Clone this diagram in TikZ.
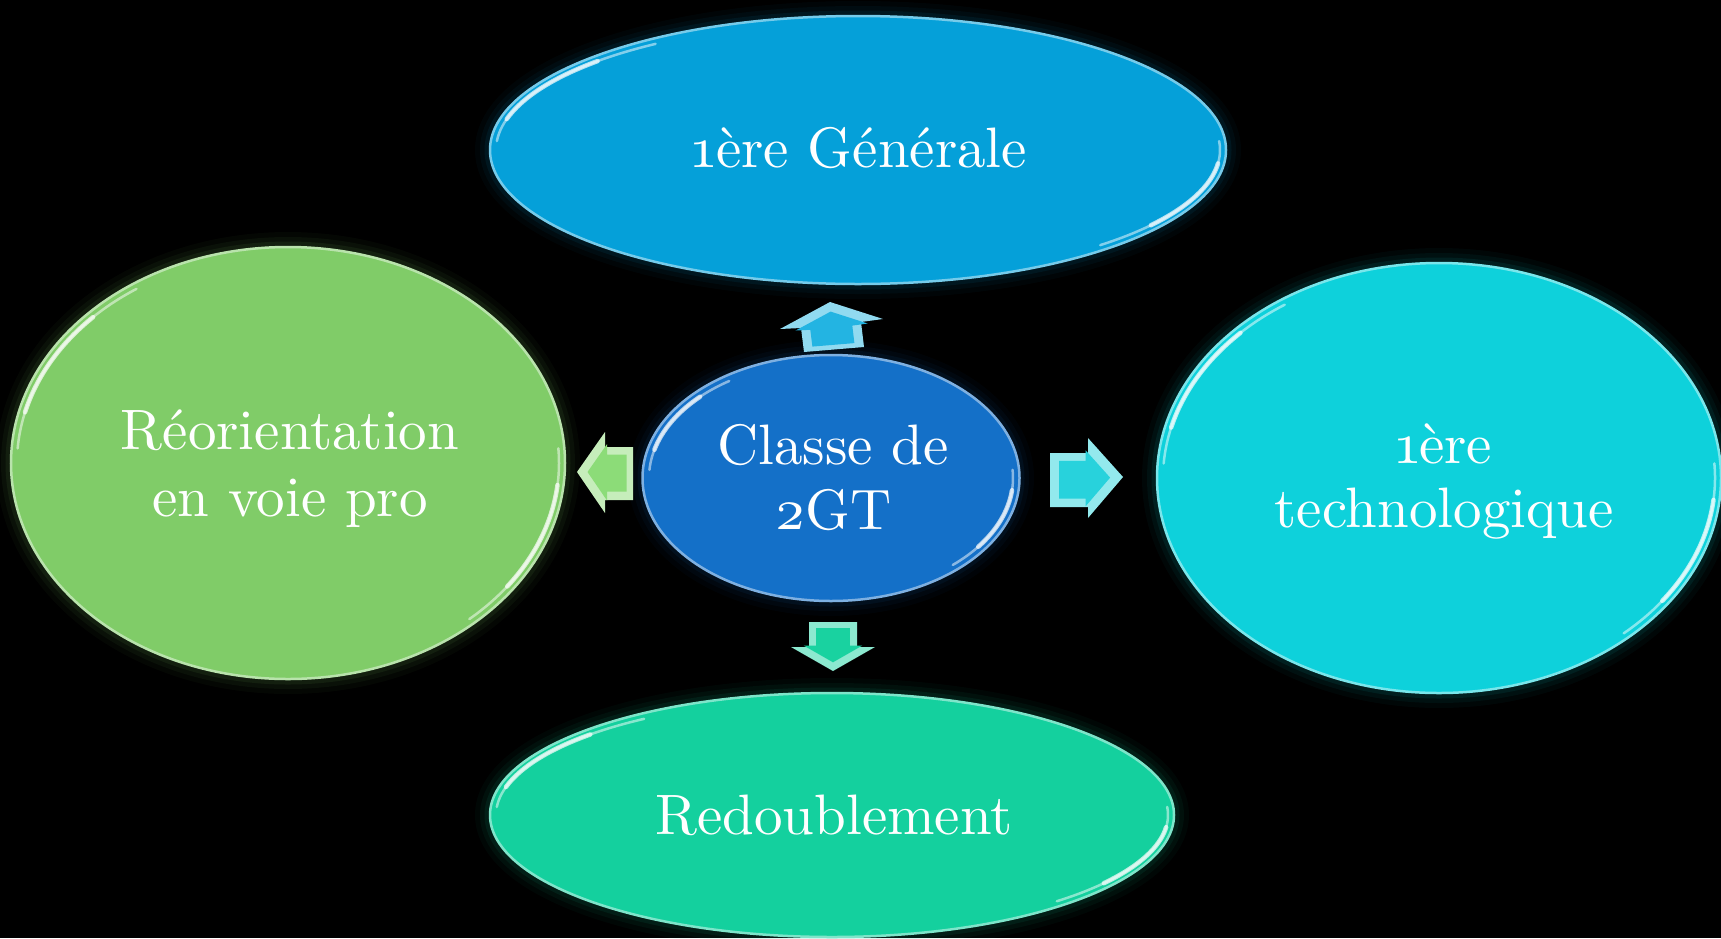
\documentclass[tikz,border=0pt]{standalone}
\usetikzlibrary{shapes.geometric}
\definecolor{cTop}{RGB}{5,160,217}
\definecolor{cMid}{RGB}{20,112,200}
\definecolor{cLeft}{RGB}{128,204,104}
\definecolor{cRight}{RGB}{14,209,219}
\definecolor{cBot}{RGB}{20,208,158}
\definecolor{aUp}{RGB}{35,180,226}
\definecolor{aLeft}{RGB}{140,220,120}
\definecolor{aRight}{RGB}{40,210,220}
\definecolor{aDown}{RGB}{25,210,160}
\font\bigrm="[lmroman10-regular]:+tlig;+onum;" at 57pt
\newcommand\glowell[5]{%
  \foreach \w/\o in {30/0.035, 20/0.05, 11/0.08}{
    \draw[#5, opacity=\o, line width=\w pt] (#1,#2) ellipse [x radius=#3, y radius=#4];
  }%
}
\newcommand\shineell[3]{% node, rx, ry (inset)
  \draw[shine] (#1) ++(194:#2 and #3) arc[start angle=194, end angle=224, x radius=#2, y radius=#3];
  \draw[shine, line width=2.5pt, opacity=0.5] (#1) ++(184:#2 and #3) arc[start angle=184, end angle=236, x radius=#2, y radius=#3];
  \draw[shine] (#1) ++(6:#2 and #3) arc[start angle=6, end angle=36, x radius=#2, y radius=#3];
  \draw[shine, line width=2.5pt, opacity=0.5] (#1) ++(-4:#2 and #3) arc[start angle=-4, end angle=48, x radius=#2, y radius=#3];
}
\newcommand\barrow[3]{%
  \fill[#1!50!white] #3 -- cycle;
  \fill[#1, scale around={0.7:#2}] #3 -- cycle;
}
\tikzset{
  bubble/.style={ellipse, inner sep=0pt, fill=#1, draw=#1!55!white, line width=2.5pt},
  lbl/.style={text=white, font=\bigrm, inner sep=0pt, anchor=base},
  shine/.style={white, opacity=0.7, line width=4.5pt, line cap=round},
}
\begin{document}
\begin{tikzpicture}[x=1pt,y=-1pt]
\fill[black] (0,0) rectangle (1721,938);
\useasboundingbox (0,0) rectangle (1721,938);

% glows
\glowell{858}{150}{368}{134}{cTop}
\glowell{288}{463}{277}{216}{cLeft}
\glowell{1439}{478}{282}{215}{cRight}
\glowell{832}{815}{342}{122}{cBot}
\glowell{831}{478}{188}{123}{cMid}

% ellipses
\node[bubble=cTop, minimum width=736pt, minimum height=268pt] (gen) at (858,150) {};
\node[bubble=cLeft, minimum width=554pt, minimum height=432pt] (reo) at (288,463) {};
\node[bubble=cRight, minimum width=564pt, minimum height=430pt] (tech) at (1439,478) {};
\node[bubble=cBot, minimum width=684pt, minimum height=244pt] (red) at (832,815) {};
\node[bubble=cMid, minimum width=377pt, minimum height=246pt] (mid) at (831,478) {};

% bevel highlights
\shineell{gen.center}{362}{128}
\shineell{reo.center}{271}{210}
\shineell{tech.center}{276}{209}
\shineell{red.center}{336}{116}
\shineell{mid.center}{182}{117}

% block arrows
\barrow{aUp}{(832,334)}{(830,302) -- (883,319) -- (861,322) -- (864,347) -- (804,352) -- (801,328) -- (780,329)}
\barrow{aLeft}{(612,472)}{(577,472) -- (605,432) -- (605,447) -- (633,447) -- (633,500) -- (605,500) -- (605,513)}
\barrow{aRight}{(1080,479)}{(1050,453) -- (1088,453) -- (1088,438) -- (1123,477) -- (1088,518) -- (1088,507) -- (1050,507)}
\barrow{aDown}{(833,642)}{(809,622) -- (857,622) -- (857,647) -- (875,647) -- (833,671) -- (791,647) -- (809,647)}

% texts
\node[lbl] (genT) at (860,167) {1ère Générale};
\node[lbl] (midA) at (833,464) {Classe de};
\node[lbl] (midB) at (833,529) {2GT};
\node[lbl] (reoA) at (290,449) {Réorientation};
\node[lbl] (reoB) at (290,516) {en voie pro};
\node[lbl] (techA) at (1444,463) {1ère};
\node[lbl] (techB) at (1444,527) {technologique};
\node[lbl] (redT) at (834,834) {Redoublement};
\end{tikzpicture}
\end{document}
